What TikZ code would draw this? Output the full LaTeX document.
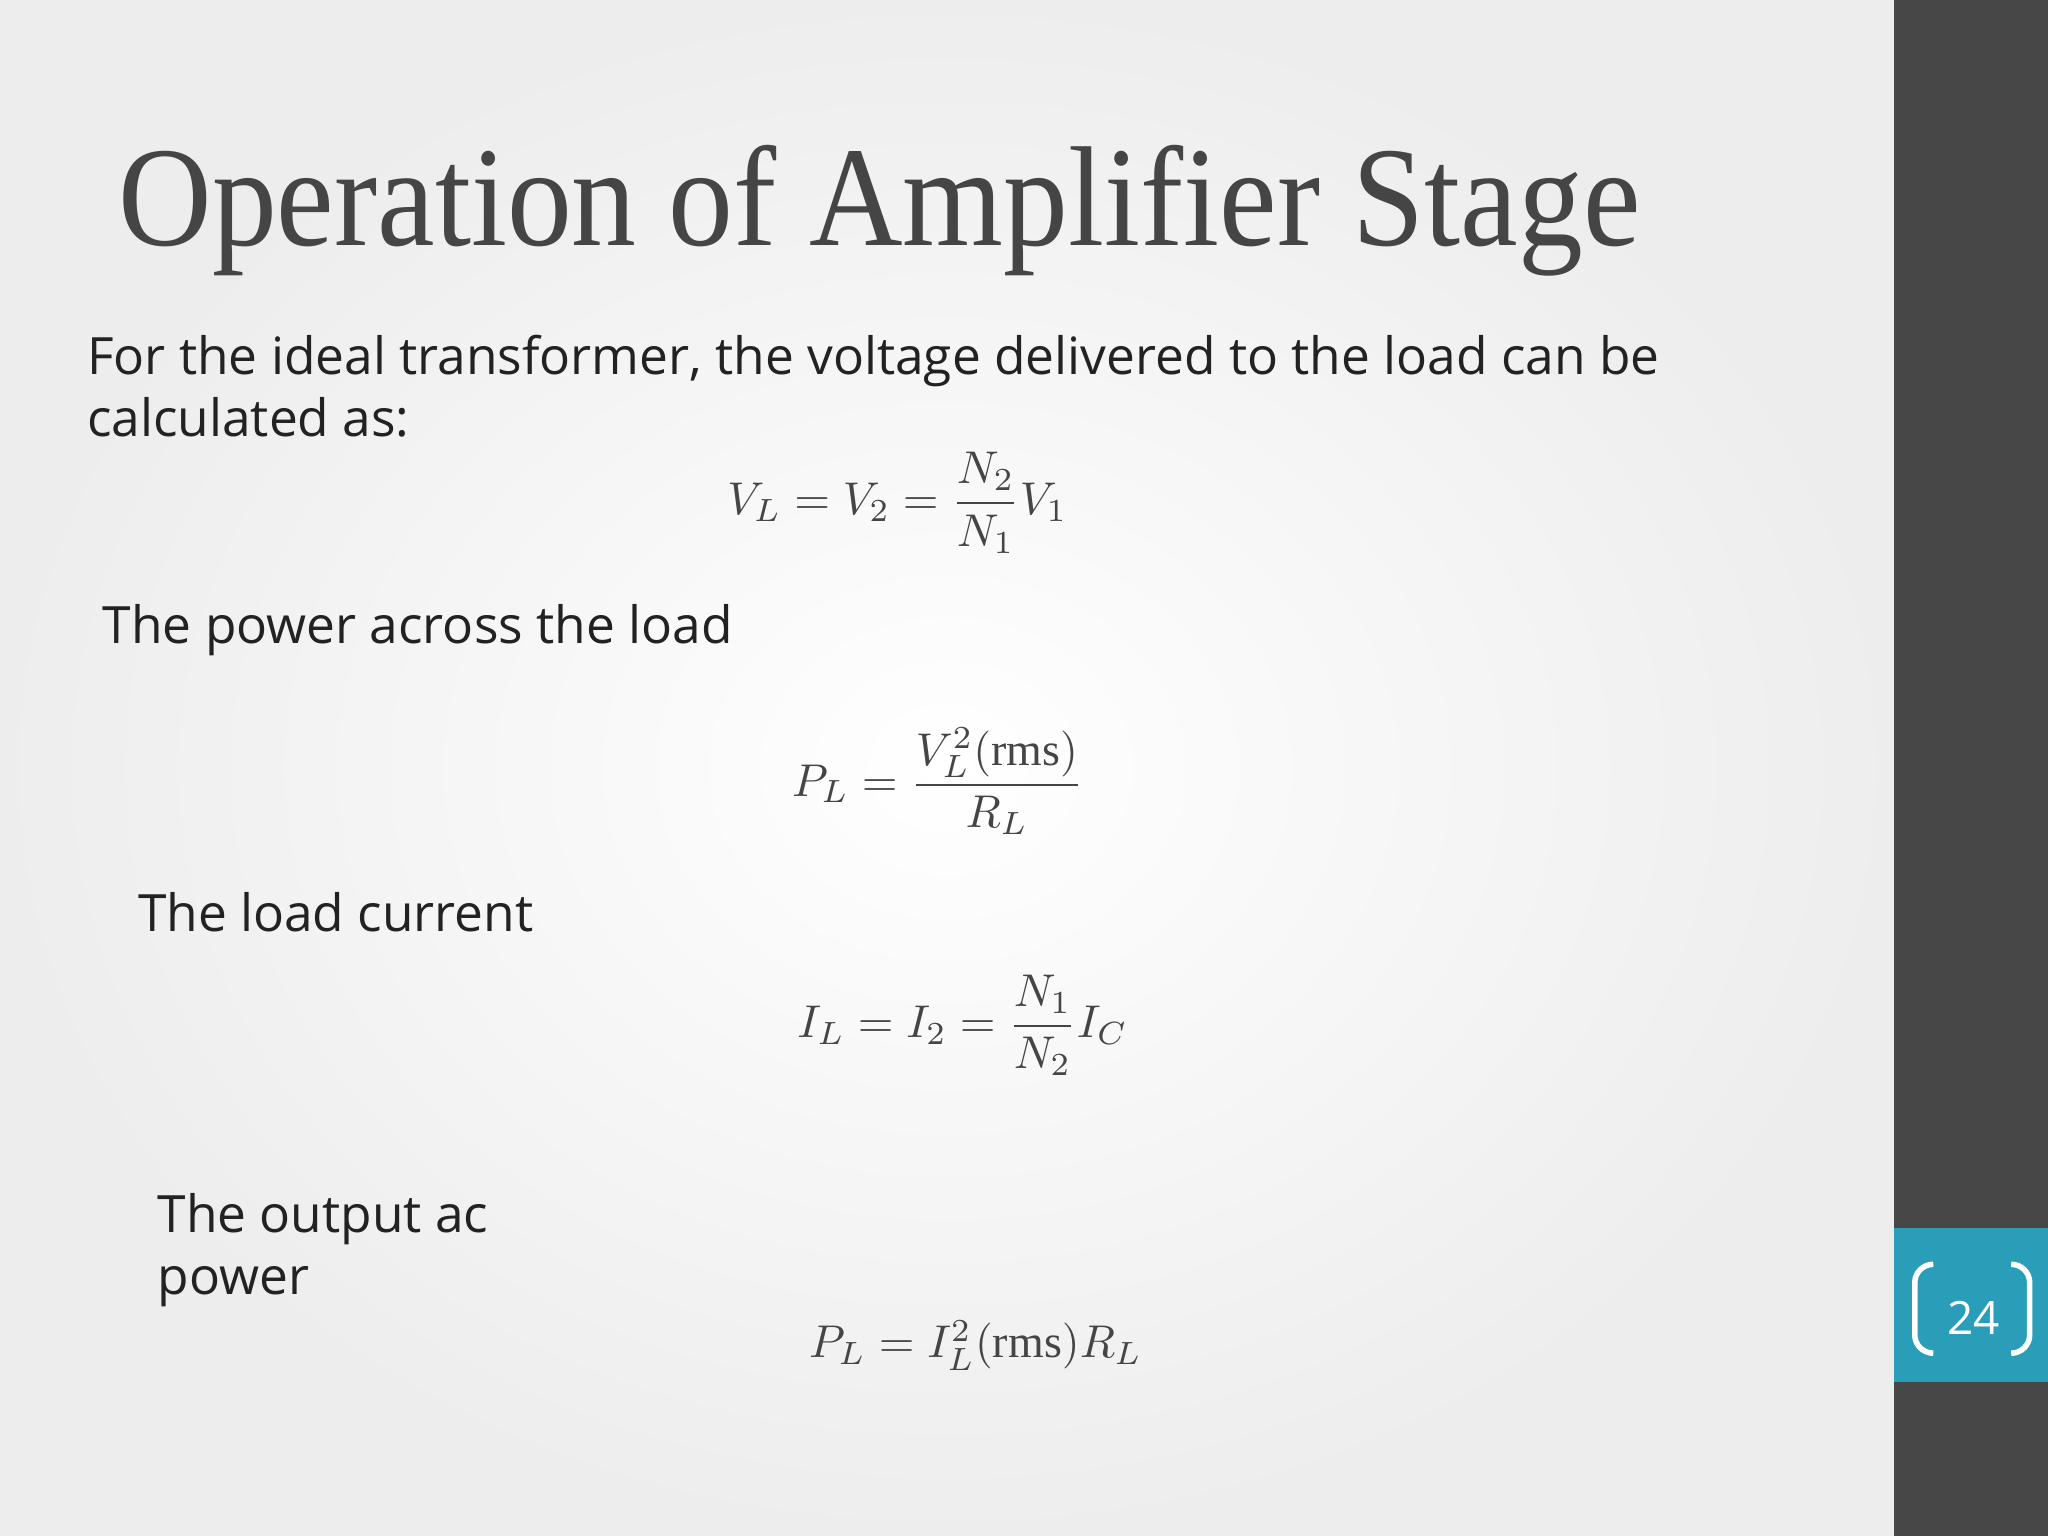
\documentclass[tikz,border=0pt]{standalone}
\usepackage{amsmath}
\usepackage{fontspec}
\setmainfont{Open Sans}
\newfontfamily\titlefont[FakeStretch=0.91]{Liberation Serif}
\newfontfamily\eqrm{Liberation Serif}
\definecolor{bar}{HTML}{474747}
\definecolor{teal}{HTML}{2A9DB8}
\definecolor{txt}{HTML}{222222}
\definecolor{ttl}{HTML}{454545}
\tikzset{body/.style={anchor=base west,font=\fontsize{11.2}{14}\selectfont,text=txt,inner sep=0pt,align=left},
eq/.style={font=\fontsize{10}{12}\selectfont,text=ttl,inner sep=0pt}}
\begin{document}
\begin{tikzpicture}[x=0.01cm,y=-0.01cm]
\useasboundingbox (0,0) rectangle (1568,1176);
\shade[inner color=white,outer color=black!7] (0,0) rectangle (1450,1176);
\fill[bar] (1450,0) rectangle (1568,1176);
\fill[teal] (1450,940) rectangle (1568,1058);
\draw[white,line width=1.2pt,rounded corners=4pt] (1478,968) -- (1466,968) -- (1466,1036) -- (1478,1036);
\draw[white,line width=1.2pt,rounded corners=4pt] (1542,968) -- (1554,968) -- (1554,1036) -- (1542,1036);
\node[text=white,font=\fontsize{10}{12}\selectfont] (pg) at (1511,1009) {24};
\node[anchor=base west,inner sep=0pt,text=ttl,font=\titlefont\fontsize{31}{36}\selectfont] (title) at (90,188) {Operation of Amplifier Stage};
\node[body] (t1) at (66,287) {For the ideal transformer, the voltage delivered to the load can be};
\node[body] (t1b) at (66,334) {calculated as:};
\node[eq] (e1) at (687,385) {$V_L = V_2 = \dfrac{N_2}{N_1}V_1$};
\node[body] (t2) at (78,493) {The power across the load};
\node[eq] (e2) at (718,598) {$P_L = \dfrac{V_L^2(\text{\eqrm rms})}{R_L}$};
\node[body] (t3) at (105,713) {The load current};
\node[eq] (e3) at (737,785) {$I_L = I_2 = \dfrac{N_1}{N_2}I_C$};
\node[body] (t4) at (120,944) {The output ac};
\node[body] (t4b) at (120,991) {power};
\node[eq] (e4) at (747,1030) {$P_L = I_L^2(\text{\eqrm rms})R_L$};
\end{tikzpicture}
\end{document}
